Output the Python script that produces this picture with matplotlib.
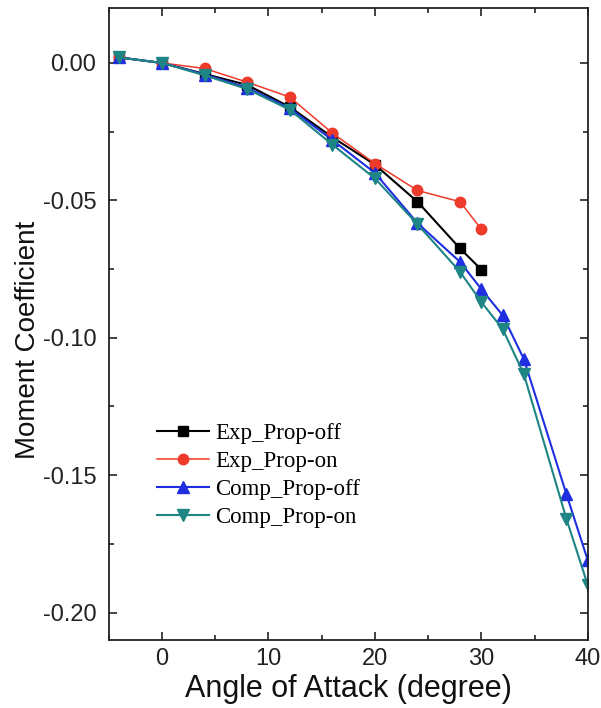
import matplotlib
matplotlib.use("Agg")
import matplotlib.pyplot as plt
from matplotlib.ticker import MultipleLocator, FormatStrFormatter

# ---- data ----
aoa_exp = [-4, 0, 4, 8, 12, 16, 20, 24, 28, 30]
exp_prop_off = [0.002, 0.000, -0.004, -0.008, -0.016, -0.027, -0.037, -0.0505, -0.0675, -0.0752]
exp_prop_on = [0.002, 0.000, -0.002, -0.007, -0.0124, -0.0255, -0.0366, -0.0464, -0.0505, -0.0605]

aoa_comp = [-4, 0, 4, 8, 12, 16, 20, 24, 28, 30, 32, 34, 38, 40]
comp_prop_off = [0.002, 0.000, -0.0042, -0.0090, -0.0165, -0.028, -0.040, -0.0583, -0.0724, -0.0823,
                 -0.0918, -0.1078, -0.157, -0.181]
comp_prop_on = [0.002, 0.000, -0.0045, -0.0095, -0.0170, -0.0297, -0.042, -0.0587, -0.0760, -0.0870,
                -0.0968, -0.1133, -0.166, -0.190]

labels = ["Exp_Prop-off", "Exp_Prop-on", "Comp_Prop-off", "Comp_Prop-on"]
x_ticks = [0, 10, 20, 30, 40]
y_ticks = [0.00, -0.05, -0.10, -0.15, -0.20]

plt.rcParams['axes.unicode_minus'] = False
plt.rcParams['font.family'] = ['Liberation Sans', 'DejaVu Sans']

fig = plt.figure(figsize=(6.01, 7.08), dpi=100)
ax = fig.add_axes([0.181, 0.096, 0.797, 0.8927])

ax.plot(aoa_exp, exp_prop_off, color='black', marker='s', markersize=6.5, linewidth=1.5, label=labels[0])
ax.plot(aoa_exp, exp_prop_on, color='#ee3a2a', marker='o', markersize=7.5, linewidth=1.1, label=labels[1])
ax.plot(aoa_comp, comp_prop_off, color='#1f2fe0', marker='^', markersize=8, linewidth=1.5, label=labels[2])
ax.plot(aoa_comp, comp_prop_on, color='#1e8585', marker='v', markersize=8, linewidth=1.5, label=labels[3])

ax.set_xlim(-5, 40)
ax.set_ylim(-0.21, 0.02)
ax.set_xticks(x_ticks)
ax.set_yticks(y_ticks)
ax.xaxis.set_minor_locator(MultipleLocator(5))
ax.yaxis.set_minor_locator(MultipleLocator(0.025))
ax.yaxis.set_major_formatter(FormatStrFormatter('%.2f'))

ax.tick_params(which='both', direction='in', top=True, right=True, labelsize=17, colors='#222222')
ax.tick_params(axis='both', which='major', length=6, width=1.2)
ax.tick_params(axis='both', which='minor', length=3.5, width=1.2)
ax.tick_params(axis='x', which='major', pad=6)
ax.tick_params(axis='y', which='major', pad=9)
for sp in ax.spines.values():
    sp.set_linewidth(1.3)
    sp.set_color('#222222')

ax.set_xlabel("Angle of Attack (degree)", fontsize=22, color='#111111')
ax.xaxis.set_label_coords(0.5, -0.077)
ax.xaxis.label.set_verticalalignment('center')
ax.set_ylabel("Moment Coefficient", fontsize=20, color='#111111')
ax.yaxis.set_label_coords(-0.169, 0.475)
ax.yaxis.label.set_verticalalignment('center')

leg = ax.legend(loc='upper left', bbox_to_anchor=(0.1, 0.343), frameon=False,
                prop={'family': ['Liberation Serif', 'DejaVu Serif'], 'size': 16.5},
                borderpad=0, borderaxespad=0, handlelength=2.3, handletextpad=0.25,
                labelspacing=0.3)

fig.savefig("out.png", dpi=100)
